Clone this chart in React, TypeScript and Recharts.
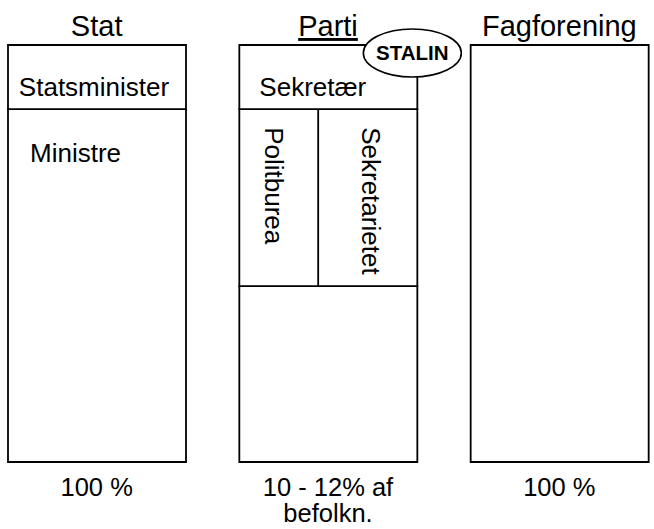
import React from "react";
import { BarChart, Bar, XAxis, YAxis, LabelList } from "recharts";

// ---- data ----
const categories = ["Stat", "Parti", "Fagforening"];
const shareLabels = ["100 %", "10 - 12% af\nbefolkn.", "100 %"];
const lowerSegment = [84.6, 42.2, 100];
const middleSegment = [0, 42.4, 0];
const headerSegment = [15.4, 15.4, 0];
const headerLabels = ["Statsminister", "Sekretær", ""];
const lowerLabels = ["Ministre", "", ""];
const middleLeftLabels = ["", "Politburea", ""];
const middleRightLabels = ["", "Sekretarietet", ""];
const leaders = ["", "STALIN", ""];
const underlinedTitles = ["Parti"];

const data = categories.map((name, i) => ({
  name,
  lower: lowerSegment[i],
  middle: middleSegment[i],
  header: headerSegment[i],
  headerLabel: headerLabels[i],
  lowerLabel: lowerLabels[i],
  leftLabel: middleLeftLabels[i],
  rightLabel: middleRightLabels[i],
  leader: leaders[i],
}));

const FONT = '"Liberation Sans", Arial, Helvetica, sans-serif';
const STROKE = "#000";
const SW = 1.8;
const INNER = 26;

const box = (props: any) => {
  const vb = props.viewBox || props;
  return { x: +vb.x, y: +vb.y, width: +vb.width, height: +vb.height, value: props.value };
};

const TopTick = (props: any) => {
  const { x, y, payload } = props;
  const u = underlinedTitles.includes(payload.value);
  return (
    <text
      x={x}
      y={y - 9}
      textAnchor="middle"
      fontSize={29}
      fontFamily={FONT}
      fill="#000"
      textDecoration={u ? "underline" : undefined}
    >
      {payload.value}
    </text>
  );
};

const BottomTick = (props: any) => {
  const { x, y, payload } = props;
  const i = categories.indexOf(payload.value);
  const lines = (shareLabels[i] || "").split("\n");
  return (
    <text x={x} y={y} textAnchor="middle" fontSize={25.5} fontFamily={FONT} fill="#000">
      {lines.map((l, k) => (
        <tspan key={k} x={x} dy={k === 0 ? 34 : 26}>
          {l}
        </tspan>
      ))}
    </text>
  );
};

const HeaderContent = (props: any) => {
  const { x, y, width, height, value } = box(props);
  if (!value || !(height > 0)) return null;
  const wide = String(value).length > 10;
  return (
    <text
      x={wide ? x + width / 2 - 3 : x + 20}
      y={y + 51}
      textAnchor={wide ? "middle" : "start"}
      fontSize={INNER}
      fontFamily={FONT}
      fill="#000"
    >
      {value}
    </text>
  );
};

const LeaderContent = (props: any) => {
  const { x, y, width, height, value } = box(props);
  if (!value || !(height > 0)) return null;
  const cx = x + width - 5;
  const cy = y + 8;
  return (
    <g>
      <ellipse cx={cx} cy={cy} rx={49} ry={24} fill="#fff" stroke={STROKE} strokeWidth={1.6} />
      <text x={cx} y={cy + 7} textAnchor="middle" fontSize={20.5} fontWeight="bold" fontFamily={FONT} fill="#000">
        {value}
      </text>
    </g>
  );
};

const LowerContent = (props: any) => {
  const { x, y, height, value } = box(props);
  if (!value || !(height > 0)) return null;
  return (
    <text x={x + 22} y={y + 53} fontSize={INNER} fontFamily={FONT} fill="#000">
      {value}
    </text>
  );
};

const SPLIT = 0.443;

const MiddleLeftContent = (props: any) => {
  const { x, y, width, height, value } = box(props);
  if (!(height > 0)) return null;
  const split = x + width * SPLIT;
  const lx = x + 26;
  const ty = y + 18;
  return (
    <g>
      <line x1={split} y1={y} x2={split} y2={y + height} stroke={STROKE} strokeWidth={SW} />
      {value ? (
        <text x={lx} y={ty} transform={`rotate(90 ${lx} ${ty})`} fontSize={INNER} fontFamily={FONT} fill="#000">
          {value}
        </text>
      ) : null}
    </g>
  );
};

const MiddleRightContent = (props: any) => {
  const { x, y, width, height, value } = box(props);
  if (!value || !(height > 0)) return null;
  const rx = x + width * SPLIT + 44;
  const ty = y + 18;
  return (
    <text x={rx} y={ty} transform={`rotate(90 ${rx} ${ty})`} fontSize={INNER} fontFamily={FONT} fill="#000">
      {value}
    </text>
  );
};

export default function App() {
  return (
    <div style={{ position: "absolute", left: 0, top: 0, background: "#fff" }}>
      <BarChart
        width={654}
        height={529}
        data={data}
        margin={{ top: 0, right: -21, bottom: 0, left: -19 }}
        barSize={178}
      >
        <XAxis
          dataKey="name"
          xAxisId="top"
          orientation="top"
          height={45}
          axisLine={false}
          tickLine={false}
          tickSize={0}
          tickMargin={0}
          interval={0}
          tick={<TopTick />}
        />
        <XAxis
          dataKey="name"
          height={67}
          axisLine={false}
          tickLine={false}
          tickSize={0}
          tickMargin={0}
          interval={0}
          tick={<BottomTick />}
        />
        <YAxis hide domain={[0, 100]} />
        <Bar dataKey="lower" stackId="a" fill="#fff" stroke={STROKE} strokeWidth={SW} isAnimationActive={false}>
          <LabelList dataKey="lowerLabel" content={<LowerContent />} />
        </Bar>
        <Bar dataKey="middle" stackId="a" fill="#fff" stroke={STROKE} strokeWidth={SW} isAnimationActive={false}>
          <LabelList dataKey="leftLabel" content={<MiddleLeftContent />} />
          <LabelList dataKey="rightLabel" content={<MiddleRightContent />} />
        </Bar>
        <Bar dataKey="header" stackId="a" fill="#fff" stroke={STROKE} strokeWidth={SW} isAnimationActive={false}>
          <LabelList dataKey="headerLabel" content={<HeaderContent />} />
          <LabelList dataKey="leader" content={<LeaderContent />} />
        </Bar>
      </BarChart>
    </div>
  );
}
